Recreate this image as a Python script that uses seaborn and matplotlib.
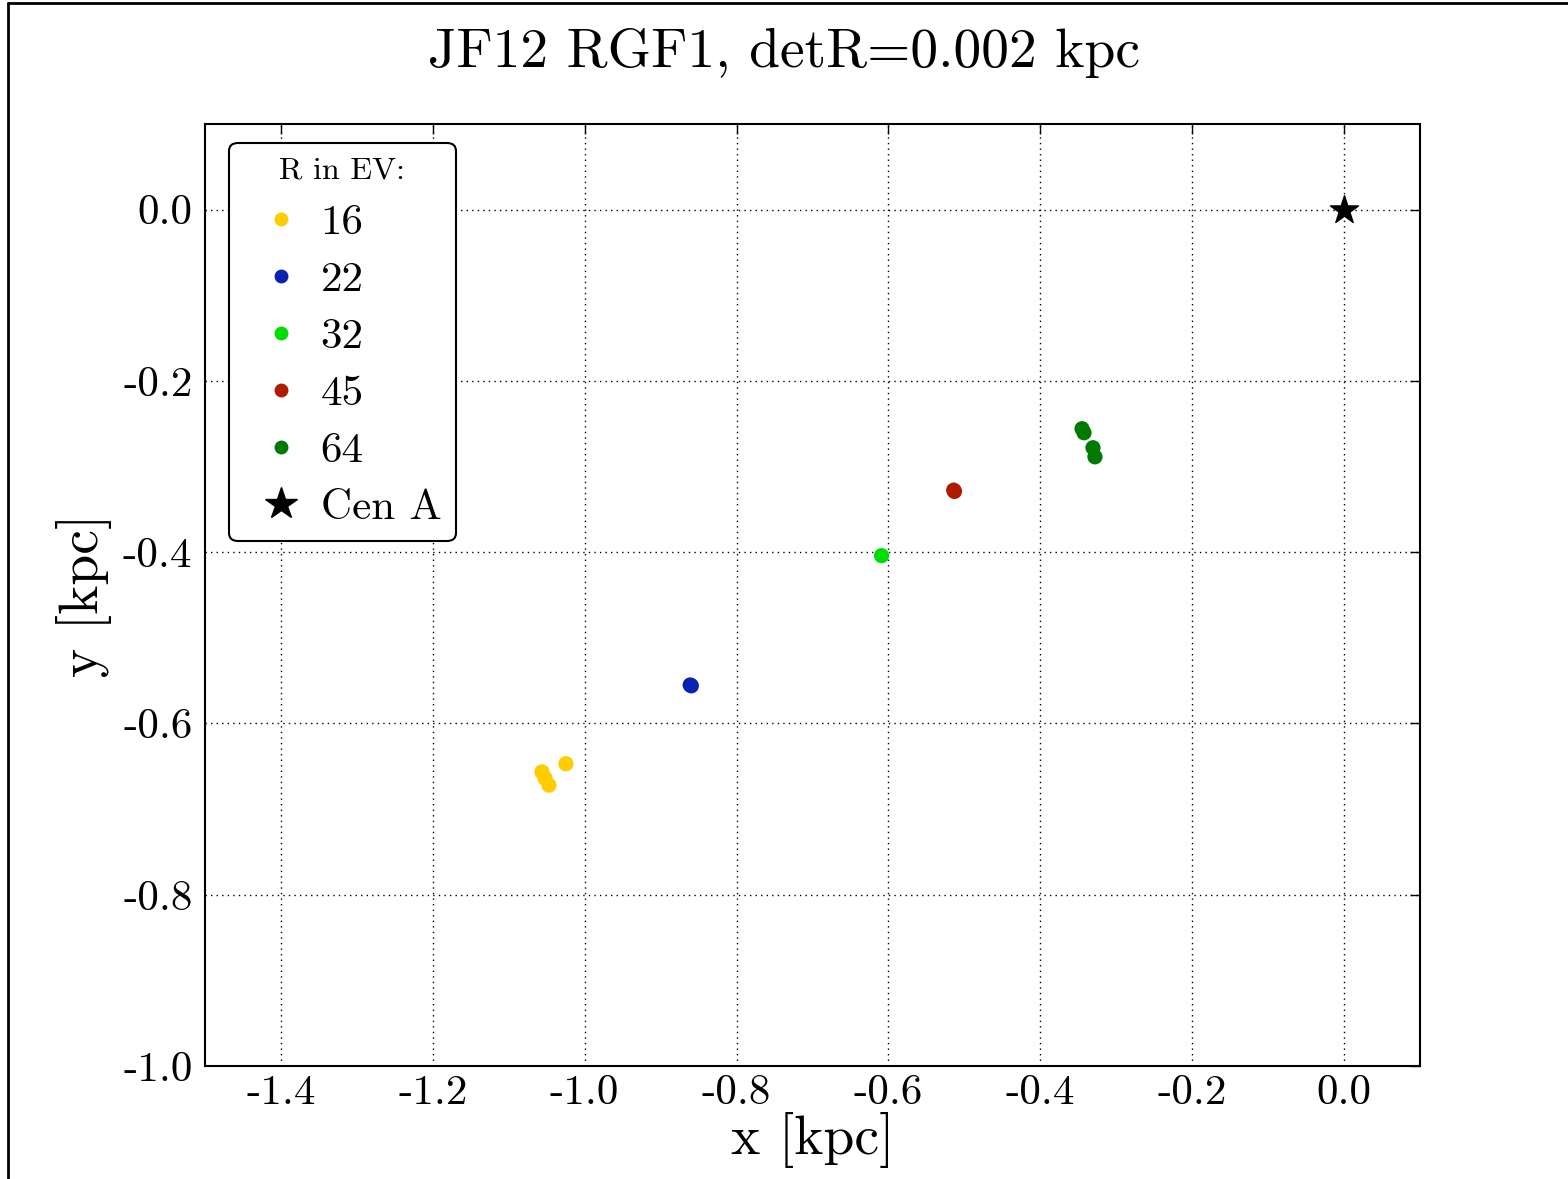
import matplotlib
matplotlib.use("Agg")
import matplotlib.pyplot as plt
from matplotlib.lines import Line2D
import seaborn as sns
import pandas as pd

# Arrival positions (kpc) of the back-tracked particles, grouped by rigidity R in EV
rigidity = ["16", "16", "16", "16", "22", "22", "32", "45", "45",
            "64", "64", "64", "64"]
x_kpc = [-1.0246, -1.0562, -1.0523, -1.0470, -0.8610, -0.8595, -0.6090,
         -0.5140, -0.5130, -0.3450, -0.3424, -0.3306, -0.3280]
y_kpc = [-0.6470, -0.6565, -0.6636, -0.6720, -0.5550, -0.5560, -0.4040,
         -0.3275, -0.3290, -0.2558, -0.2605, -0.2780, -0.2886]

rigidity_levels = ["16", "22", "32", "45", "64"]
level_colors = ["#FFCC00", "#0A22B0", "#00DD00", "#B01A00", "#007A00"]

source_name = "Cen A"
source_x = [0.0]
source_y = [0.0]

df = pd.DataFrame({"R": rigidity, "x": x_kpc, "y": y_kpc})

sns.set_style("white")
plt.rcParams["font.family"] = ["cmr10", "DejaVu Serif"]
plt.rcParams["mathtext.fontset"] = "cm"
plt.rcParams["axes.unicode_minus"] = False
plt.rcParams["axes.formatter.use_mathtext"] = True
plt.rcParams["text.color"] = "black"
plt.rcParams["axes.labelcolor"] = "black"
plt.rcParams["xtick.color"] = "black"
plt.rcParams["ytick.color"] = "black"

fig = plt.figure(figsize=(15.68, 11.79), dpi=100)
ax = fig.add_axes([0.1307, 0.0958, 0.7749, 0.7990])

palette = dict(zip(rigidity_levels, level_colors))
sns.scatterplot(data=df, x="x", y="y", hue="R", hue_order=rigidity_levels,
                palette=palette, s=120, edgecolor="none", linewidth=0,
                legend=False, ax=ax, zorder=3)
ax.scatter(source_x, source_y, marker="*", s=450, color="black", zorder=4)

ax.set_xlim(-1.5, 0.1)
ax.set_ylim(-1.0, 0.1)
ax.set_xticks([-1.4, -1.2, -1.0, -0.8, -0.6, -0.4, -0.2, 0.0])
ax.set_yticks([0.0, -0.2, -0.4, -0.6, -0.8, -1.0])
ax.xaxis.set_major_formatter(matplotlib.ticker.FormatStrFormatter("%.1f"))
ax.yaxis.set_major_formatter(matplotlib.ticker.FormatStrFormatter("%.1f"))
ax.grid(True, color="black", linestyle=(0, (1, 3)), linewidth=1.0)
ax.set_axisbelow(True)
ax.tick_params(direction="in", length=7, width=1, top=True, right=True,
               labelsize=31, pad=9, colors="black")
ax.tick_params(axis="x", pad=6)
for sp in ax.spines.values():
    sp.set_color("black")
    sp.set_linewidth(1.5)

ax.set_xlabel("x [kpc]", fontsize=40, labelpad=0)
ax.set_ylabel("y [kpc]", fontsize=40, labelpad=8)
fig.suptitle("JF12 RGF1, detR=0.002 kpc", fontsize=40, y=0.976, va="top")

handles = [Line2D([], [], linestyle="none", marker="o", markersize=10,
                  markerfacecolor=c, markeredgecolor="none") for c in level_colors]
handles.append(Line2D([], [], linestyle="none", marker="*", markersize=24,
                      markerfacecolor="black", markeredgecolor="black"))
labels = rigidity_levels + [source_name]
leg = ax.legend(handles, labels, title="R in EV:", loc="upper left",
                fontsize=31, title_fontsize=23, frameon=True, fancybox=True,
                framealpha=1, edgecolor="black", labelspacing=0.44,
                handletextpad=0.05, borderpad=0.33, handlelength=1.75,
                borderaxespad=0.0, bbox_to_anchor=(0.0198, 0.980))
leg.get_frame().set_linewidth(1.5)

# Outer frame of the figure window
fig.add_artist(Line2D([0.005, 0.005], [0.0, 0.9975], transform=fig.transFigure,
                      color="black", linewidth=2))
fig.add_artist(Line2D([0.005, 1.0], [0.9975, 0.9975], transform=fig.transFigure,
                      color="black", linewidth=2))

fig.savefig("out.png", dpi=100, facecolor="white")
